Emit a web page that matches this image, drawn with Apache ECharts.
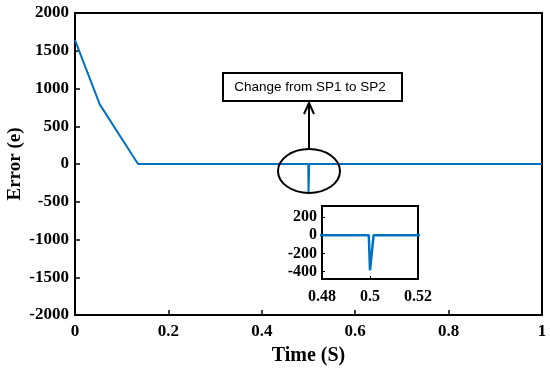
<!DOCTYPE html>
<html><head><meta charset="utf-8">
<script src="https://cdn.jsdelivr.net/npm/echarts@6/dist/echarts.min.js"></script>
<style>html,body{margin:0;padding:0;background:#fff}#c{width:550px;height:374px}</style>
</head><body><div id="c"></div>
<script>
const timeS = [0, 0.053, 0.135, 0.4995, 0.5, 0.5015, 1];
const errorE = [1640, 790, 0, 0, -385, 0, 0];
const xTicksMain = [0, 0.2, 0.4, 0.6, 0.8, 1];
const yTicksInset = [-400, -200, 0, 200];
const annotationText = 'Change from SP1 to SP2';

const pts = timeS.map((t, i) => [t, errorE[i]]);
const serif = '"Liberation Serif","Times New Roman",serif';
const blue = '#0072BD';
const chart = echarts.init(document.getElementById('c'));
chart.setOption({
  animation: false,
  grid: [
    {left: 75, right: 8, top: 13, bottom: 59, show: true, borderColor: '#000', borderWidth: 2, outerBoundsMode: 'none', containLabel: false},
    {left: 322, top: 206, width: 96, height: 73, show: true, borderColor: '#000', borderWidth: 2, backgroundColor: '#fff', z: 10, outerBoundsMode: 'none', containLabel: false}
  ],
  xAxis: [
    {gridIndex: 0, type: 'value', min: 0, max: 1, interval: 0.2,
     name: 'Time (S)', nameLocation: 'middle', nameGap: 31, nameMoveOverlap: false,
     nameTextStyle: {fontFamily: serif, fontWeight: 'bold', fontSize: 20, color: '#000'},
     axisLine: {onZero: false, lineStyle: {color: '#000', width: 2}},
     axisTick: {inside: true, length: 5, lineStyle: {color: '#000', width: 1.5}},
     axisLabel: {fontFamily: serif, fontWeight: 'bold', fontSize: 17, color: '#000', margin: 8, formatter: v => String(v)},
     splitLine: {show: false}},
    {gridIndex: 1, type: 'value', min: 0.48, max: 0.52, interval: 0.02, z: 11,
     axisLine: {onZero: false, lineStyle: {color: '#000', width: 2}},
     axisTick: {inside: true, length: 3, lineStyle: {color: '#000'}},
     axisLabel: {fontFamily: serif, fontWeight: 'bold', fontSize: 16, color: '#000', margin: 10,
       formatter: v => String(+v.toFixed(2))},
     splitLine: {show: false}}
  ],
  yAxis: [
    {gridIndex: 0, type: 'value', min: -2000, max: 2000, interval: 500,
     name: 'Error (e)', nameLocation: 'middle', nameGap: 50, nameMoveOverlap: false,
     nameTextStyle: {fontFamily: serif, fontWeight: 'bold', fontSize: 19, color: '#000'},
     axisLine: {onZero: false, lineStyle: {color: '#000', width: 2}},
     axisTick: {inside: true, length: 5, lineStyle: {color: '#000', width: 1.5}},
     axisLabel: {fontFamily: serif, fontWeight: 'bold', fontSize: 17, color: '#000', margin: 6, formatter: v => String(v)},
     splitLine: {show: false}},
    {gridIndex: 1, type: 'value', min: -480, max: 320, z: 11,
     axisLine: {onZero: false, lineStyle: {color: '#000', width: 2}},
     axisTick: {inside: true, length: 3, customValues: yTicksInset, lineStyle: {color: '#000'}},
     axisLabel: {fontFamily: serif, fontWeight: 'bold', fontSize: 16, color: '#000', margin: 5, customValues: yTicksInset, formatter: v => String(v)},
     splitLine: {show: false}}
  ],
  series: [
    {type: 'line', xAxisIndex: 0, yAxisIndex: 0, data: pts, showSymbol: false,
     lineStyle: {color: blue, width: 2}, z: 2},
    {type: 'line', xAxisIndex: 1, yAxisIndex: 1, data: pts, showSymbol: false, clip: true,
     lineStyle: {color: blue, width: 2.5}, z: 12}
  ],
  graphic: [
    {type: 'ellipse', shape: {cx: 309, cy: 171, rx: 31, ry: 22}, style: {fill: 'none', stroke: '#000', lineWidth: 2}, z: 20},
    {type: 'line', shape: {x1: 309, y1: 148, x2: 309, y2: 104}, style: {stroke: '#000', lineWidth: 2}, z: 20},
    {type: 'polyline', shape: {points: [[304, 114], [309, 103], [314, 114]]}, style: {fill: 'none', stroke: '#000', lineWidth: 2}, z: 20},
    {type: 'rect', shape: {x: 223, y: 73, width: 179, height: 28}, style: {fill: '#fff', stroke: '#000', lineWidth: 2}, z: 20},
    {type: 'text', x: 310, y: 87.5, style: {text: annotationText, fill: '#000', font: '13.5px "Liberation Sans", Arial, sans-serif', textAlign: 'center', textVerticalAlign: 'middle'}, z: 21}
  ]
});
</script></body></html>
